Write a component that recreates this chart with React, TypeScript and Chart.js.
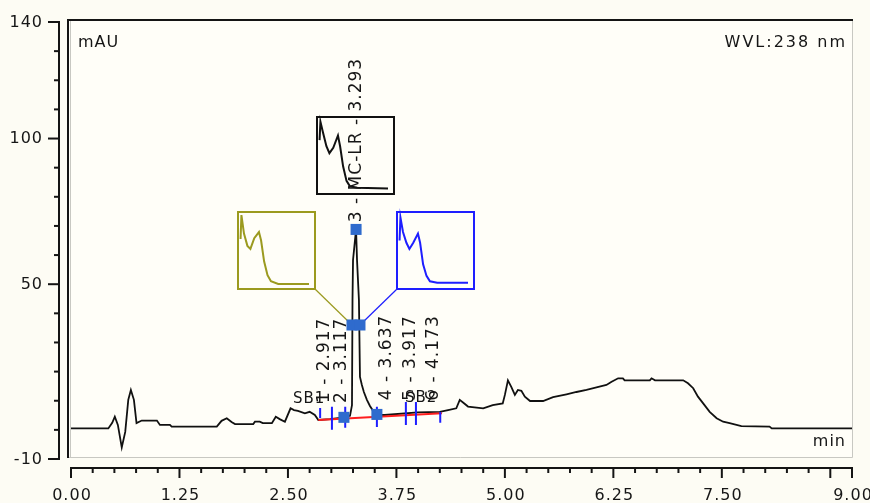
import { useEffect, useRef } from 'react';
import { Chart, registerables } from 'chart.js';

Chart.register(...registerables);

// ---------- chromatogram trace (time in min, signal in mAU) ----------
const traceTime = [
  0, 0.43, 0.475, 0.505, 0.54, 0.585, 0.625, 0.66, 0.69, 0.725, 0.755, 0.815, 0.99, 1.025, 1.14, 1.16,
  1.68, 1.735, 1.795, 1.85, 1.89, 2.1, 2.12, 2.175, 2.21, 2.315, 2.36, 2.405, 2.465, 2.53, 2.57, 2.615,
  2.695, 2.75, 2.81, 2.85, 2.985, 3.145, 3.215, 3.238, 3.244, 3.25, 3.285, 3.296, 3.318, 3.33, 3.352,
  3.375, 3.41, 3.445, 3.49, 3.535, 3.615, 3.995, 4.25, 4.345, 4.44, 4.48, 4.525, 4.575, 4.75, 4.86,
  4.975, 5.0, 5.035, 5.075, 5.115, 5.15, 5.19, 5.23, 5.29, 5.44, 5.555, 5.71, 5.825, 5.94, 6.055, 6.17,
  6.23, 6.305, 6.36, 6.38, 6.67, 6.69, 6.73, 7.055, 7.11, 7.17, 7.225, 7.285, 7.36, 7.44, 7.515, 7.59,
  7.725, 8.05, 8.075, 9.0,
];
const traceMAU = [
  0.5, 0.5, 2.4, 4.5, 1.7, -6.0, -0.7, 10.3, 13.7, 10.3, 2.3, 3.2, 3.2, 1.7, 1.7, 1.1,
  1.1, 3.1, 4.0, 2.7, 2.0, 2.0, 2.8, 2.8, 2.3, 2.3, 4.5, 3.7, 2.8, 7.4, 6.8, 6.5,
  5.7, 6.2, 5.1, 3.4, 3.7, 4.3, 4.8, 8.5, 44.6, 58.3, 68.8, 58.3, 44.6, 18.2, 15.4,
  13.0, 10.3, 8.2, 6.1, 5.1, 5.1, 6.0, 6.2, 6.8, 7.4, 10.3, 9.2, 8.0, 7.4, 8.5,
  9.1, 12.0, 17.0, 14.7, 12.0, 13.7, 13.4, 11.4, 9.9, 9.9, 11.2, 12.2, 13.0, 13.7, 14.6, 15.4,
  16.5, 17.7, 17.7, 17.0, 17.0, 17.7, 17.0, 17.0, 16.0, 14.3, 11.4, 9.1, 6.2, 4.0, 2.8, 2.3,
  1.3, 1.1, 0.5, 0.5,
];

// ---------- integration baseline ----------
const baselineTime = [2.85, 4.275];
const baselineMAU = [3.4, 5.7];

// ---------- peak delimiters ----------
const delimiterTime = [2.871, 3.007, 3.16, 3.525, 3.859, 3.975, 4.255];
const delimiterLow = [4.1, 0.0, 0.7, 1.0, 1.7, 1.7, 2.4];
const delimiterHigh = [7.5, 7.9, 7.9, 7.9, 9.6, 9.6, 6.1];

// ---------- spectrum markers (0 start, 1 upslope, 2 downslope, 3 apex, 4 end) ----------
const markerTime = [3.145, 3.238, 3.33, 3.285, 3.525];
const markerMAU = [4.3, 36, 36, 68.8, 5.3];

// ---------- peak labels ----------
const peakNumbers = ['1', '2', '3', '4', '5', '6'];
const peakNames = ['', '', 'MC-LR', '', '', ''];
const peakTimes = [2.917, 3.117, 3.293, 3.637, 3.917, 4.173];
const peakLabelMAU = [9.2, 9.2, 71.3, 10.2, 10.0, 10.0];

const sbLabels = ['SB1', 'SB2'];
const sbTimes = [2.558, 3.849];
const sbMAU = [9.2, 9.5];

// ---------- UV spectra shown in the insets (relative absorbance) ----------
const specWl = [196, 198, 204, 212, 219, 228, 239, 244, 251, 259, 267, 284, 356];
const specApex = [0.7, 0.94, 0.8, 0.62, 0.53, 0.6, 0.76, 0.62, 0.36, 0.17, 0.1, 0.08, 0.07];
const specUp = [0.65, 0.96, 0.72, 0.56, 0.52, 0.66, 0.74, 0.63, 0.36, 0.18, 0.1, 0.065, 0.065];
const specDown = [0.63, 0.93, 0.74, 0.6, 0.52, 0.6, 0.72, 0.6, 0.32, 0.17, 0.1, 0.08, 0.08];

// ---------- axes ----------
const xTickLabels = [0, 1.25, 2.5, 3.75, 5, 6.25, 7.5, 9];
const yTickLabels = [140, 100, 50, -10];
const X_MIN = 0, X_MAX = 9, X_MINOR = 0.25, X_MAJOR = 1.25;
const Y_MIN = -10, Y_MAX = 140, Y_MINOR = 10;

// ---------- styling / layout ----------
const FONT = '"DejaVu Sans", Verdana, sans-serif';
const TEXT = '#161616';
const BG = '#fdfcf4';
const PLOT_BG = '#fffef8';
const BLUE = '#1e1eff';
const OLIVE = '#9b9a1f';
const MARK = '#2f6bcd';
const BOX = 77;
const WL_MIN = 190, WL_MAX = 370;

// inset boxes anchored in data coordinates (top-left corner)
const insetBoxes = [
  { abs: specApex, color: '#111111', left: 2.835, top: 107.4, link: -1, corner: 'none' },
  { abs: specUp, color: OLIVE, left: 1.924, top: 74.8, link: 1, corner: 'right' },
  { abs: specDown, color: BLUE, left: 3.757, top: 74.8, link: 2, corner: 'left' },
];

function spacing(ctx: any, px: number) {
  ctx.letterSpacing = px + 'px';
}

const chromPlugin = {
  id: 'chrom',
  beforeDraw(chart: any) {
    const { ctx, chartArea: a } = chart;
    const x = chart.scales.x;
    const y = chart.scales.y;
    ctx.save();
    ctx.fillStyle = BG;
    ctx.fillRect(0, 0, chart.width, chart.height);
    ctx.fillStyle = PLOT_BG;
    ctx.fillRect(a.left - 2, a.top - 2, a.right - a.left + 2, a.bottom - a.top);

    // frame: gray right / bottom
    ctx.strokeStyle = '#c8c8c2';
    ctx.lineWidth = 1;
    ctx.beginPath();
    ctx.moveTo(a.left - 3, a.bottom - 1.5);
    ctx.lineTo(a.right + 0.5, a.bottom - 1.5);
    ctx.lineTo(a.right + 0.5, a.top - 3);
    ctx.stroke();
    ctx.beginPath();
    ctx.moveTo(a.left - 0.5, a.top - 1);
    ctx.lineTo(a.left - 0.5, a.bottom - 1.5);
    ctx.stroke();
    // frame: black top / left
    ctx.strokeStyle = '#141414';
    ctx.lineWidth = 2;
    ctx.beginPath();
    ctx.moveTo(a.left - 3, a.bottom - 1);
    ctx.lineTo(a.left - 3, a.top - 2);
    ctx.lineTo(a.right + 1, a.top - 2);
    ctx.stroke();

    // y axis
    const ax = a.left - 12;
    ctx.beginPath();
    ctx.moveTo(ax, y.getPixelForValue(Y_MAX) - 1);
    ctx.lineTo(ax, y.getPixelForValue(Y_MIN) + 1);
    ctx.stroke();
    for (let v = Y_MIN; v <= Y_MAX; v += Y_MINOR) {
      const py = y.getPixelForValue(v);
      const major = yTickLabels.includes(v);
      ctx.beginPath();
      ctx.moveTo(ax - (major ? 11 : 5), py);
      ctx.lineTo(ax, py);
      ctx.stroke();
    }
    ctx.fillStyle = TEXT;
    ctx.font = '16px ' + FONT;
    spacing(ctx, 1);
    ctx.textAlign = 'right';
    ctx.textBaseline = 'middle';
    yTickLabels.forEach((v) => ctx.fillText(String(v), ax - 16, y.getPixelForValue(v) + 0.5));

    // x axis
    const ay = a.bottom + 9;
    ctx.beginPath();
    ctx.moveTo(x.getPixelForValue(X_MIN) - 1, ay);
    ctx.lineTo(x.getPixelForValue(X_MAX) + 1, ay);
    ctx.stroke();
    const n = Math.round((X_MAX - X_MIN) / X_MINOR);
    for (let k = 0; k <= n; k++) {
      const t = X_MIN + k * X_MINOR;
      const px = x.getPixelForValue(t);
      const major = k % Math.round(X_MAJOR / X_MINOR) === 0 || k === n;
      ctx.beginPath();
      ctx.moveTo(px, ay);
      ctx.lineTo(px, ay + (major ? 10 : 5));
      ctx.stroke();
    }
    ctx.textAlign = 'center';
    ctx.textBaseline = 'alphabetic';
    xTickLabels.forEach((t) => ctx.fillText(t.toFixed(2), x.getPixelForValue(t) + 1, ay + 32));

    // corner texts
    ctx.textAlign = 'left';
    ctx.fillText('mAU', a.left + 7, a.top + 25);
    ctx.textAlign = 'right';
    spacing(ctx, 2);
    ctx.fillText('WVL:238 nm', a.right - 5, a.top + 25);
    spacing(ctx, 1);
    ctx.fillText('min', a.right - 6, a.bottom - 13);
    spacing(ctx, 0);
    ctx.restore();
  },
  beforeDatasetsDraw(chart: any) {
    const { ctx } = chart;
    const x = chart.scales.x;
    const y = chart.scales.y;
    ctx.save();
    insetBoxes.forEach((b) => {
      const bx = Math.round(x.getPixelForValue(b.left));
      const by = Math.round(y.getPixelForValue(b.top));
      // connector
      if (b.link >= 0) {
        const mx = x.getPixelForValue(markerTime[b.link]);
        const my = y.getPixelForValue(markerMAU[b.link]);
        ctx.strokeStyle = b.color;
        ctx.lineWidth = 1.2;
        ctx.beginPath();
        ctx.moveTo(b.corner === 'right' ? bx + BOX : bx, by + BOX);
        ctx.lineTo(mx, my);
        ctx.stroke();
      }
      ctx.strokeStyle = b.color;
      ctx.lineWidth = 2;
      ctx.strokeRect(bx, by, BOX, BOX);
      ctx.beginPath();
      specWl.forEach((wl, i) => {
        const px = bx + ((wl - WL_MIN) / (WL_MAX - WL_MIN)) * BOX;
        const py = by + (1 - b.abs[i]) * BOX;
        if (i === 0) ctx.moveTo(px, py);
        else ctx.lineTo(px, py);
      });
      ctx.stroke();
    });
    ctx.restore();
  },
  afterDatasetsDraw(chart: any) {
    const { ctx } = chart;
    const x = chart.scales.x;
    const y = chart.scales.y;
    ctx.save();
    ctx.fillStyle = TEXT;
    ctx.font = '17px ' + FONT;
    spacing(ctx, 1);
    peakTimes.forEach((t, i) => {
      const label = [peakNumbers[i], peakNames[i], t.toFixed(3)].filter(Boolean).join(' - ');
      ctx.save();
      ctx.translate(x.getPixelForValue(t), y.getPixelForValue(peakLabelMAU[i]));
      ctx.rotate(-Math.PI / 2);
      ctx.textAlign = 'left';
      ctx.textBaseline = 'middle';
      ctx.fillText(label, 0, 0);
      ctx.restore();
    });
    ctx.font = '15px ' + FONT;
    ctx.textAlign = 'left';
    ctx.textBaseline = 'alphabetic';
    sbLabels.forEach((s, i) => ctx.fillText(s, x.getPixelForValue(sbTimes[i]), y.getPixelForValue(sbMAU[i])));
    spacing(ctx, 0);
    ctx.restore();
  },
};

export default function App() {
  const ref = useRef<HTMLCanvasElement>(null);
  useEffect(() => {
    const trace = traceTime.map((t, i) => ({ x: t, y: traceMAU[i] }));
    const base = baselineTime.map((t, i) => ({ x: t, y: baselineMAU[i] }));
    const delims: any[] = [];
    delimiterTime.forEach((t, i) => {
      delims.push({ x: t, y: delimiterLow[i] }, { x: t, y: delimiterHigh[i] }, { x: t, y: null });
    });
    const markers = markerTime.map((t, i) => ({ x: t, y: markerMAU[i] }));
    const chart = new Chart(ref.current as HTMLCanvasElement, {
      type: 'scatter',
      data: {
        datasets: [
          {
            label: 'spectra',
            data: markers,
            showLine: false,
            pointStyle: 'rect',
            pointRadius: 7.8,
            pointBackgroundColor: MARK,
            pointBorderColor: MARK,
            pointBorderWidth: 0,
          },
          {
            label: 'delimiters',
            data: delims,
            showLine: true,
            spanGaps: false,
            borderColor: BLUE,
            borderWidth: 2,
            pointRadius: 0,
          },
          {
            label: 'baseline',
            data: base,
            showLine: true,
            borderColor: '#ff1e1e',
            borderWidth: 2,
            pointRadius: 0,
          },
          {
            label: 'signal',
            data: trace,
            showLine: true,
            borderColor: '#111111',
            borderWidth: 1.8,
            pointRadius: 0,
            tension: 0,
          },
        ],
      } as any,
      options: {
        responsive: false,
        animation: false,
        events: [],
        layout: { padding: { left: 71, right: 18, top: 22, bottom: 44 } },
        scales: {
          x: { type: 'linear', min: X_MIN, max: X_MAX, display: false },
          y: { type: 'linear', min: Y_MIN, max: Y_MAX, display: false },
        },
        plugins: { legend: { display: false }, tooltip: { enabled: false } },
      } as any,
      plugins: [chromPlugin],
    });
    return () => chart.destroy();
  }, []);
  return (
    <div style={{ position: 'absolute', left: 0, top: 0, width: 870, height: 503, background: BG }}>
      <canvas ref={ref} width={870} height={503} style={{ display: 'block', width: 870, height: 503 }} />
    </div>
  );
}
